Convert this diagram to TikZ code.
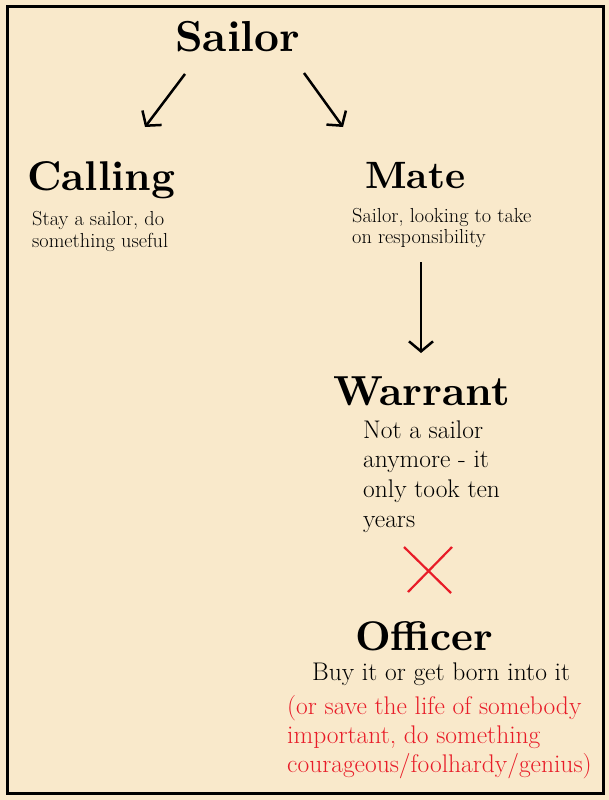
\documentclass[tikz,border=0pt]{standalone}
\usetikzlibrary{arrows.meta}
\definecolor{parch}{RGB}{249,233,203}
\definecolor{xred}{RGB}{232,28,40}
\begin{document}
\begin{tikzpicture}[x=1pt,y=-1pt,
  head/.style={inner sep=0pt, anchor=base west},
  txtsmall/.style={inner sep=0pt, anchor=base west, font=\fontsize{20.3}{22}\selectfont},
  txtbig/.style={inner sep=0pt, anchor=base west, font=\fontsize{25.5}{29}\selectfont},
  txtred/.style={txtbig, text=xred},
  flow/.style={line width=2.5pt, -{Straight Barb[length=10pt,width=24pt,line width=2.5pt]}},
  cross/.style={xred, line width=2.2pt}
]
\useasboundingbox (0,0) rectangle (609,800);
\fill[parch] (0,0) rectangle (609,800);
\draw[line width=3pt] (7.5,6.5) rectangle (603,793.5);
% headings
\node[head] (sailor) at (175,52) {\resizebox{125pt}{!}{\bfseries Sailor}};
\node[head] (calling) at (27,190) {\resizebox{148pt}{!}{\bfseries Calling}};
\node[head] (mate) at (365,188) {\resizebox{100pt}{!}{\bfseries Mate}};
\node[head] (warrant) at (333,405) {\resizebox{177pt}{!}{\bfseries Warrant}};
\node[head] (officer) at (355,650) {\resizebox{138pt}{!}{\bfseries Officer}};
% body texts
\node[txtsmall] (c1) at (32,225) {Stay a sailor, do};
\node[txtsmall] (c2) at (32,247) {something useful};
\node[txtsmall] (m1) at (352,222) {Sailor, looking to take};
\node[txtsmall] (m2) at (352,243) {on responsibility};
\node[txtbig] (w1) at (363,438) {Not a sailor};
\node[txtbig] (w2) at (363,467.5) {anymore - it};
\node[txtbig] (w3) at (363,497) {only took ten};
\node[txtbig] (w4) at (363,527) {years};
\node[txtbig] (o1) at (312,680) {Buy it or get born into it};
\node[txtred] (r1) at (287,714.5) {(or save the life of somebody};
\node[txtred] (r2) at (287,743.5) {important, do something};
\node[txtred] (r3) at (287,772.5) {courageous/foolhardy/genius)};
% connectors
\coordinate (aLs) at (185,74);
\coordinate (aLe) at (145,127);
\coordinate (aRs) at (304,73);
\coordinate (aRe) at (343,127);
\coordinate (aDs) at (421,262);
\coordinate (aDe) at (421,353);
\draw[flow] (aLs) -- (aLe);
\draw[flow] (aRs) -- (aRe);
\draw[flow] (aDs) -- (aDe);
% red cross
\coordinate (x1) at (404,547);
\coordinate (x2) at (451,593);
\coordinate (x3) at (452,547);
\coordinate (x4) at (408,592);
\draw[cross] (x1) -- (x2);
\draw[cross] (x3) -- (x4);
\end{tikzpicture}
\end{document}
